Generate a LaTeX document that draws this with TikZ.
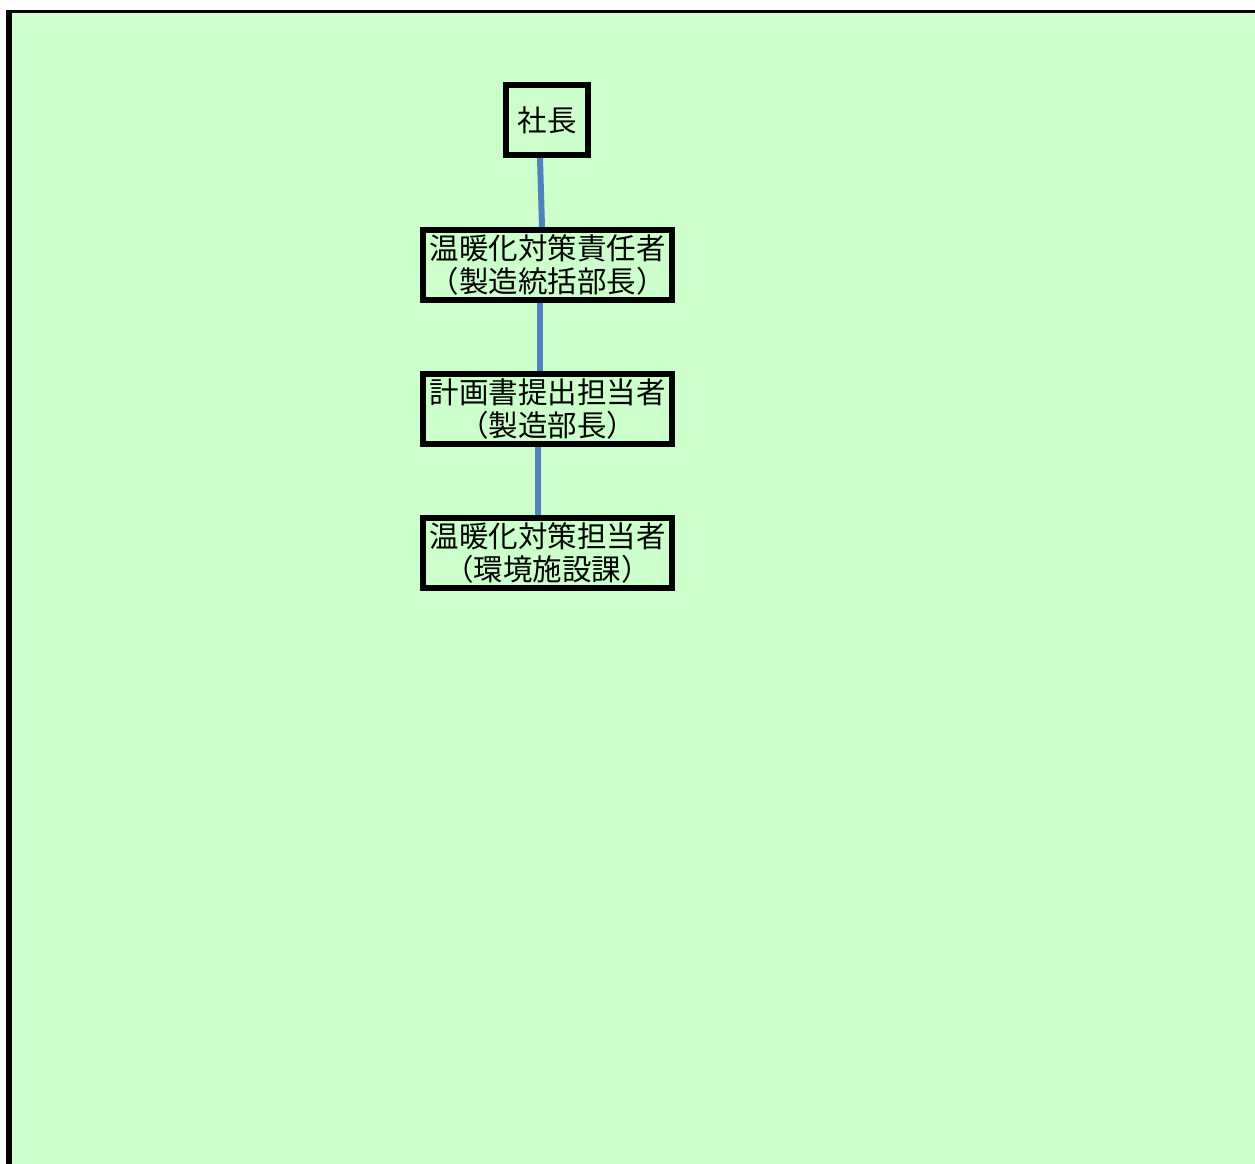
\documentclass[tikz,border=0pt]{standalone}
\usepackage{fontspec}
\newfontfamily\jpfont{Noto Sans CJK JP}
\usepackage{xcolor}
\usetikzlibrary{positioning, calc}
\definecolor{bgreen}{HTML}{CCFFCC}
\definecolor{linkblue}{HTML}{4F81BD}

\begin{document}
\begin{tikzpicture}[
    x=1pt, y=-1pt,
    font=\jpfont\fontsize{29.5}{33}\selectfont,
    box/.style   = {rectangle, draw=black, line width=6pt, fill=bgreen,
                    minimum height=70pt, text centered, align=center, inner sep=1pt},
    top/.style   = {box, minimum width=82pt},
    post/.style  = {box, minimum width=249pt},
    link/.style  = {draw=linkblue, line width=6pt},
]

% ---- page and background ----
\useasboundingbox (0,0) rectangle (1255,1164);
\fill[white] (0,0) rectangle (1255,1164);
\fill[bgreen] (12,13) rectangle (1255,1164);
\draw[line width=6pt] (9,10) -- (9,1164);
\draw[line width=3.5pt] (6,11.5) -- (1255,11.5);

% ---- chain of posts ----
\node[top]  (boss)    at (547,120)            {社長};
\node[post] (chief)   [below=69pt of boss.south, anchor=north, xshift=0.5pt]
     {温暖化対策責任者\\（製造統括部長）};
\node[post] (planner) [below=68pt of chief]   {計画書提出担当者\\（製造部長）};
\node[post] (staff)   [below=68pt of planner] {温暖化対策担当者\\（環境施設課）};

% ---- connectors ----
\draw[link] ([xshift=-7pt]boss.south)    -- ([xshift=-5.5pt]chief.north);
\draw[link] ([xshift=-7.5pt]chief.south) -- ([xshift=-7.5pt]planner.north);
\draw[link] ([xshift=-9.5pt]planner.south) -- ([xshift=-9.5pt]staff.north);

\end{tikzpicture}
\end{document}
